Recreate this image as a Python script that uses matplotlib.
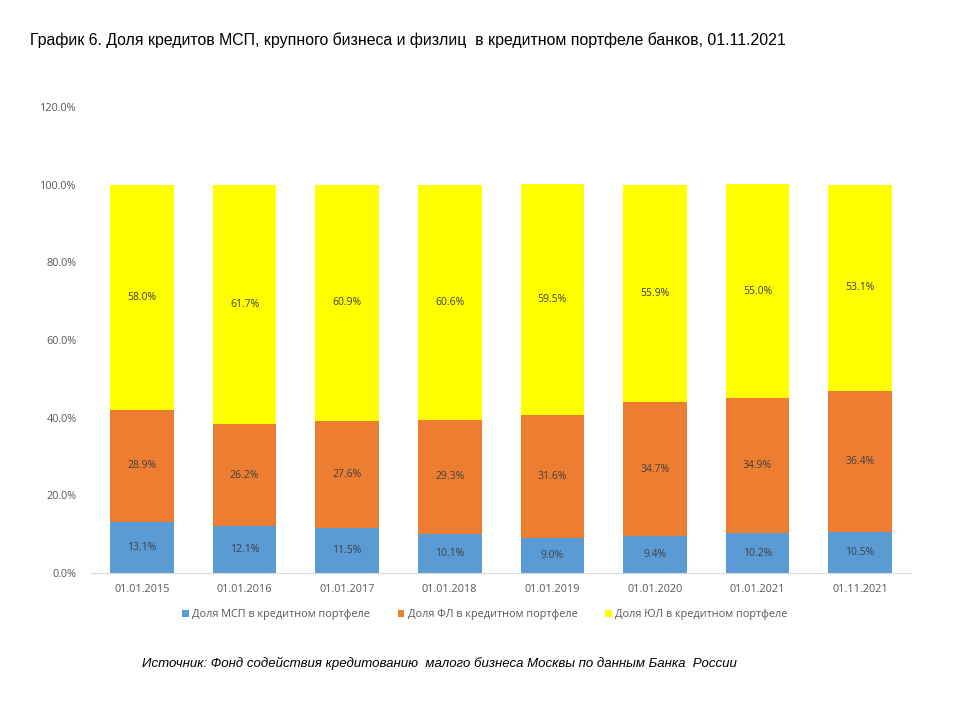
import numpy as np
import matplotlib.pyplot as plt
from matplotlib.ticker import FuncFormatter

dates = ['01.01.2015', '01.01.2016', '01.01.2017', '01.01.2018',
         '01.01.2019', '01.01.2020', '01.01.2021', '01.11.2021']
msp = [13.1, 12.1, 11.5, 10.1, 9.0, 9.4, 10.2, 10.5]
fl = [28.9, 26.2, 27.6, 29.3, 31.6, 34.7, 34.9, 36.4]
ul = [58.0, 61.7, 60.9, 60.6, 59.5, 55.9, 55.0, 53.1]
series_names = ['Доля МСП в кредитном портфеле',
                'Доля ФЛ в кредитном портфеле',
                'Доля ЮЛ в кредитном портфеле']
colors = ['#5B9BD5', '#ED7D31', '#FFFF00']

fig = plt.figure(figsize=(9.6, 7.2), dpi=100)
ax = fig.add_axes([0.0944, 0.2042, 0.855, 0.6472])

x = np.arange(len(dates))
bottom = np.zeros(len(dates))
for vals, name, c in zip([msp, fl, ul], series_names, colors):
    vals = np.array(vals)
    ax.bar(x, vals, 0.62, bottom=bottom, color=c, label=name)
    for xi, b, v in zip(x, bottom, vals):
        ax.text(xi, b + v / 2, f'{v:.1f}%', ha='center', va='center',
                fontsize=7.5, color='#404040', family='Open Sans')
    bottom += vals

ax.set_xlim(-0.5, len(dates) - 0.5)
ax.set_ylim(0, 120)
ax.set_yticks(np.arange(0, 121, 20))
ax.yaxis.set_major_formatter(FuncFormatter(lambda v, p: f'{v:.1f}%'))
ax.set_xticks(x)
ax.set_xticklabels(dates)
ax.tick_params(length=0, labelsize=7.8, labelcolor='#595959', pad=8)
for lab in ax.get_xticklabels() + ax.get_yticklabels():
    lab.set_family('Open Sans')
ax.tick_params(axis='y', pad=10)
for s in ['top', 'right', 'left']:
    ax.spines[s].set_visible(False)
ax.spines['bottom'].set_color('#D9D9D9')

fig.legend(loc='center', bbox_to_anchor=(0.505, 0.146), ncol=3, frameon=False,
           handlelength=0.6, handleheight=0.6, handletextpad=0.3,
           columnspacing=2.6, prop={'family': 'Open Sans', 'size': 7.8},
           labelcolor='#595959')

fig.text(0.031, 0.944, 'График 6. Доля кредитов МСП, крупного бизнеса и физлиц  в кредитном портфеле банков, 01.11.2021',
         fontsize=11.4, family='Liberation Sans', va='center')
fig.text(0.458, 0.078, 'Источник: Фонд содействия кредитованию  малого бизнеса Москвы по данным Банка  России',
         fontsize=9.5, family='Liberation Sans', style='italic', ha='center', va='center')

fig.savefig('out.png', dpi=100)
